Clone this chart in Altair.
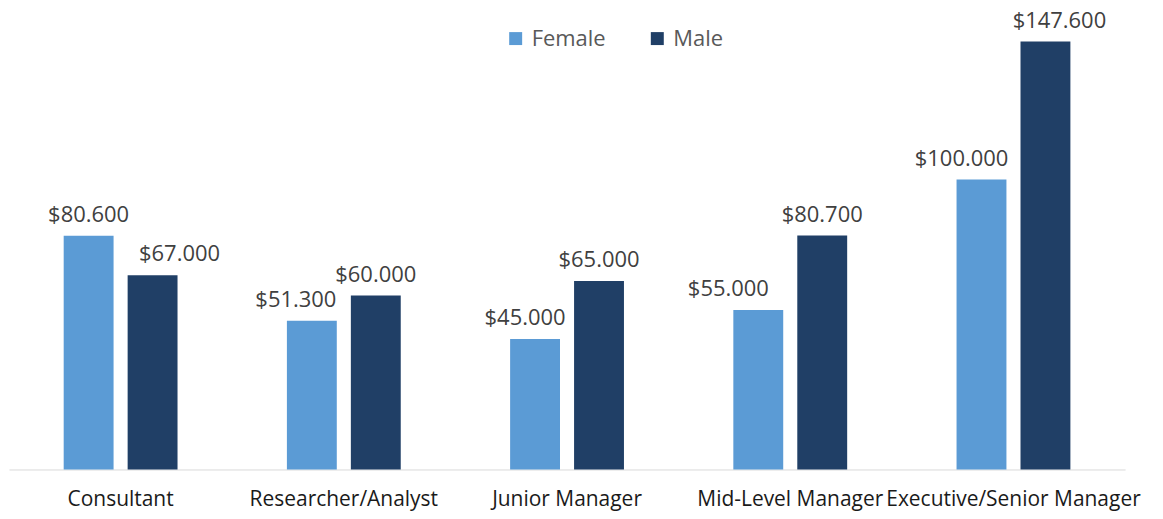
import altair as alt
import pandas as pd

categories = ["Consultant", "Researcher/Analyst", "Junior Manager", "Mid-Level Manager", "Executive/Senior Manager"]
female = [80600, 51300, 45000, 55000, 100000]
male = [67000, 60000, 65000, 80700, 147600]
series = ["Female", "Male"]
colors = ["#5B9BD5", "#203F66"]

# horizontal nudges of the value labels (female, male) per category, as in the original
label_nudge_female = [0, -16, -10, -30, -20]
label_nudge_male = [27, 0, 0, 0, 14]

rows = []
for i, c in enumerate(categories):
    for s, v, n in zip(series, [female[i], male[i]], [label_nudge_female[i], label_nudge_male[i]]):
        rows.append({"role": c, "gender": s, "salary": v, "nudge": n,
                     "label": "$" + f"{v:,}".replace(",", ".")})
df = pd.DataFrame(rows)

FONT = "Open Sans"

x = alt.X("role:N", sort=categories, title=None,
          scale=alt.Scale(paddingInner=0.49, paddingOuter=0.245),
          axis=alt.Axis(labelAngle=0, labelFontSize=21, labelColor="#1a1a1a", labelFont=FONT,
                        ticks=False, domainColor="#d9d9d9", labelPadding=19, labelLimit=0))
xo = alt.XOffset("gender:N", sort=series, scale=alt.Scale(paddingInner=0.22, paddingOuter=0))
y = alt.Y("salary:Q", scale=alt.Scale(domain=[0, 150000]), axis=None)

bars = alt.Chart(df).mark_bar().encode(
    x=x, xOffset=xo, y=y,
    color=alt.Color("gender:N", sort=series,
                    scale=alt.Scale(domain=series, range=colors),
                    legend=alt.Legend(title=None, orient="none", direction="horizontal",
                                      legendX=497, legendY=-7, symbolType="square",
                                      symbolSize=169, symbolStrokeWidth=0,
                                      labelFontSize=22, labelColor="#595959", labelFont=FONT,
                                      labelOffset=5, columnPadding=40)),
)

layers = [bars]
for n in sorted(set(df["nudge"])):
    layers.append(
        alt.Chart(df).transform_filter(alt.datum.nudge == n)
        .mark_text(dx=n, dy=-21, fontSize=22, color="#404040", font=FONT)
        .encode(x=x, xOffset=xo, y=y, text="label:N")
    )

chart = alt.layer(*layers).properties(
    width=1119, height=436,
    autosize=alt.AutoSizeParams(type="none"),
    padding={"left": 1, "top": 26, "right": 30, "bottom": 45},
).configure_view(stroke=None)

chart.save("out.html", embed_options={"renderer": "svg", "actions": False})
